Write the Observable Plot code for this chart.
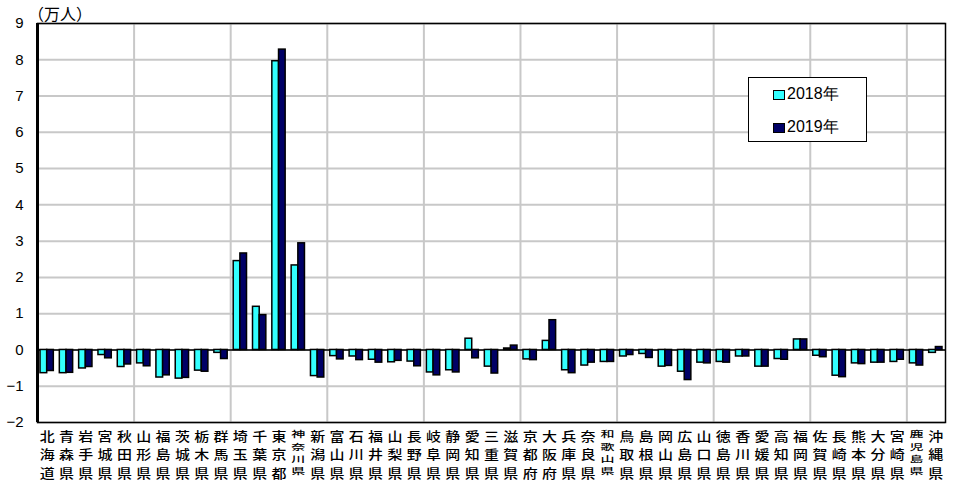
<!DOCTYPE html>
<html>
<head>
<meta charset="utf-8">
<script src="https://cdn.jsdelivr.net/npm/d3@7"></script>
<script src="https://cdn.jsdelivr.net/npm/@observablehq/plot@0.6"></script>
<style>
  html, body { margin: 0; padding: 0; background: #fff; }
  #wrap { position: relative; width: 956px; height: 493px; }
  #unit { position: absolute; left: 28px; top: 1px; font: 16px "Noto Sans CJK JP", sans-serif; color: #000; }
  #legend { position: absolute; left: 748px; top: 77px; width: 119px; height: 65px; border: 1.5px solid #000; background: #fff; box-sizing: border-box; font: 16px "Liberation Sans", Arial, sans-serif; }
  .item { position: absolute; left: 24px; display: flex; align-items: center; }
  .sw { width: 10px; height: 8px; border: 1.5px solid #000; margin-right: 2px; }
</style>
</head>
<body>
<div id="wrap">
  <div id="chart"></div>
  <div id="unit">（万人）</div>
  <div id="legend"></div>
</div>
<script>
const prefectures = ["北海道","青森県","岩手県","宮城県","秋田県","山形県","福島県","茨城県","栃木県","群馬県",
  "埼玉県","千葉県","東京都","神奈川県","新潟県","富山県","石川県","福井県","山梨県","長野県",
  "岐阜県","静岡県","愛知県","三重県","滋賀県","京都府","大阪府","兵庫県","奈良県","和歌山県",
  "鳥取県","島根県","岡山県","広島県","山口県","徳島県","香川県","愛媛県","高知県","福岡県",
  "佐賀県","長崎県","熊本県","大分県","宮崎県","鹿児島県","沖縄県"];
const v2018 = [-0.64,-0.64,-0.51,-0.14,-0.47,-0.37,-0.76,-0.79,-0.57,-0.08,
  2.45,1.19,7.96,2.33,-0.72,-0.17,-0.18,-0.27,-0.34,-0.32,
  -0.62,-0.56,0.31,-0.46,0.04,-0.26,0.25,-0.56,-0.43,-0.33,
  -0.18,-0.11,-0.46,-0.60,-0.35,-0.33,-0.18,-0.46,-0.25,0.29,
  -0.16,-0.71,-0.37,-0.35,-0.33,-0.37,-0.08];
const v2019 = [-0.58,-0.63,-0.47,-0.23,-0.40,-0.45,-0.70,-0.77,-0.60,-0.25,
  2.66,0.96,8.28,2.94,-0.76,-0.26,-0.28,-0.35,-0.30,-0.45,
  -0.70,-0.62,-0.23,-0.65,0.12,-0.28,0.82,-0.64,-0.35,-0.33,
  -0.14,-0.22,-0.44,-0.83,-0.37,-0.35,-0.18,-0.46,-0.27,0.29,
  -0.20,-0.75,-0.39,-0.35,-0.27,-0.43,0.08];
const series = ["2018年","2019年"];
const colors = ["#33ffff","#000066"];
const yTicks = [-2,-1,0,1,2,3,4,5,6,7,8,9];

const rows2018 = prefectures.map((p,i)=>({pref:p, value:v2018[i]}));
const rows2019 = prefectures.map((p,i)=>({pref:p, value:v2019[i]}));

const W = 956, H = 493, ml = 37, mr = 11, mt = 23, mb = 71;
const bw = (W - ml - mr) / prefectures.length;
const gridPrefs = prefectures.filter((d,i)=> i>0 && i%5===0);
const short = prefectures.filter(d=>d.length<=3);
const long = prefectures.filter(d=>d.length>3);
const jp = "Noto Sans CJK JP";

// vertical squeeze of the stacked category labels
const sShort = 0.84, fsShort = 15, stepShort = 18.5;
const sLong = 0.6, fsLong = 14, stepLong = 12.3;

const chart = Plot.plot({
  width: W, height: H,
  marginLeft: ml, marginRight: mr, marginTop: mt, marginBottom: mb,
  x: {domain: prefectures, padding: 0, round: false, axis: null},
  y: {domain: [-2, 9], axis: null},
  marks: [
    Plot.ruleY(yTicks, {stroke: "#c8c8c8", strokeWidth: 2}),
    Plot.ruleX(gridPrefs, {x: d=>d, dx: -bw/2, stroke: "#c8c8c8", strokeWidth: 2}),
    Plot.ruleY([0], {stroke: "#000", strokeWidth: 1.5}),
    Plot.barY(rows2018, {x: "pref", y: "value", fill: colors[0], stroke: "#000", strokeWidth: 1.5, insetLeft: 3, insetRight: bw - 9.7}),
    Plot.barY(rows2019, {x: "pref", y: "value", fill: colors[1], stroke: "#000", strokeWidth: 1.5, insetLeft: 9.7, insetRight: 3}),
    Plot.frame({stroke: "#000", strokeWidth: 1.5}),
    Plot.ruleX(prefectures.slice(0,1), {x: d=>d, dx: -bw/2, stroke: "#000", strokeWidth: 3}),
    Plot.text(yTicks, {y: d=>d, text: d=> d<0 ? "−"+Math.abs(d) : String(d), frameAnchor: "left", textAnchor: "end", dx: -14, fontSize: 15, fontFamily: "Liberation Sans, Arial, sans-serif", fill: "#000"}),
    Plot.text(short, {x: d=>d, text: d=>d.split("").join("\n"), frameAnchor: "bottom", lineAnchor: "top", dy: 5, lineHeight: stepShort/(sShort*fsShort), fontSize: fsShort, fontFamily: jp, fontWeight: 500, fill: "#000"}),
    Plot.text(long, {x: d=>d, text: d=>d.split("").join("\n"), frameAnchor: "bottom", lineAnchor: "top", dy: 6, lineHeight: stepLong/(sLong*fsLong), fontSize: fsLong, fontFamily: jp, fontWeight: 500, fill: "#000"})
  ]
});

const textGroups = chart.querySelectorAll('g[aria-label="text"]');
function squeeze(g, s) {
  if (!g) return;
  g.querySelectorAll("text").forEach(t => {
    const tr = t.getAttribute("transform") || "";
    t.setAttribute("transform", tr + ` scale(1,${s})`);
  });
}
squeeze(textGroups[1], sShort);
squeeze(textGroups[2], sLong);
document.getElementById("chart").appendChild(chart);

const leg = document.getElementById("legend");
series.forEach((s,i)=>{
  const it = document.createElement("div");
  it.className = "item";
  it.style.top = (i===0 ? 6 : 39) + "px";
  it.innerHTML = `<span class="sw" style="background:${colors[i]}"></span><span>${s}</span>`;
  leg.appendChild(it);
});
</script>
</body>
</html>
